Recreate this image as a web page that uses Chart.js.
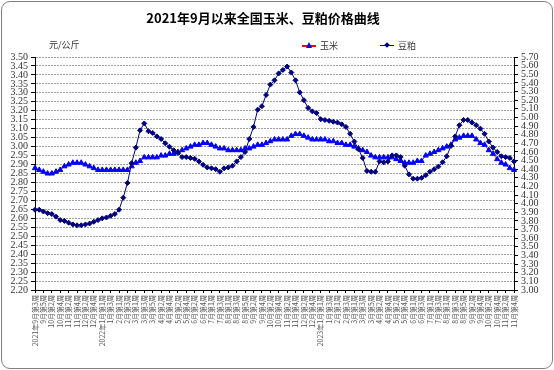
<!DOCTYPE html>
<html><head><meta charset="utf-8">
<script src="https://cdn.jsdelivr.net/npm/chart.js@4.4.0/dist/chart.umd.min.js"></script>
<style>
html,body{margin:0;padding:0;background:#fff;}
#wrap{position:relative;width:554px;height:370px;overflow:hidden;background:#fff;}
#frame{position:absolute;left:1px;top:1px;width:550px;height:366px;border:1px solid #808080;border-radius:9px;pointer-events:none;}
canvas{position:absolute;left:0;top:0;}
.t{position:absolute;white-space:nowrap;font-family:"Noto Sans CJK SC",sans-serif;line-height:1;}
#title{left:0;width:526px;top:11px;text-align:center;font-size:13px;font-weight:bold;color:#000;}
#unit{left:49px;top:40px;font-size:9px;color:#333;}
.lgline{position:absolute;height:2px;}
.lgtext{font-size:9px;color:#333;top:41px;}
</style></head>
<body>
<div id="wrap">
<canvas id="c" width="554" height="370"></canvas>
<div class="t" id="title">2021年9月以来全国玉米、豆粕价格曲线</div>
<div class="t" id="unit">元/公斤</div>
<div class="lgline" style="left:302px;top:45px;width:14px;background:#ff0000;"></div>
<div style="position:absolute;left:306px;top:42px;width:0;height:0;border-left:3px solid transparent;border-right:3px solid transparent;border-bottom:6px solid #0000ff;"></div>
<div class="t lgtext" style="left:320px;">玉米</div>
<div class="lgline" style="left:380px;top:45px;width:14px;height:1px;background:#000080;"></div>
<div style="position:absolute;left:385px;top:43px;width:4px;height:4px;background:#000080;transform:rotate(45deg);"></div>
<div class="t lgtext" style="left:398px;">豆粕</div>
<div id="frame"></div>
</div>
<script>
const tickLabels = [
 "2021年9月第3周","9月第5周","10月第2周","10月第4周","11月第2周","11月第4周","12月第2周","12月第4周",
 "2022年1月第1周","1月第3周","2月第1周","2月第3周","3月第1周","3月第3周","3月第5周","4月第2周","4月第4周",
 "5月第2周","5月第4周","6月第2周","6月第4周","7月第1周","7月第3周","8月第1周","8月第3周","8月第5周",
 "9月第2周","9月第4周","10月第2周","10月第4周","11月第2周","11月第4周","12月第2周","12月第4周",
 "2023年1月第1周","1月第3周","2月第1周","2月第3周","3月第1周","3月第3周","3月第5周","4月第2周","4月第4周",
 "5月第2周","5月第4周","6月第1周","6月第3周","7月第1周","7月第3周","8月第1周","8月第3周","8月第5周",
 "9月第2周","9月第4周","10月第2周","10月第4周","11月第2周","11月第4周"
];
// 玉米 (元/公斤, left axis), weekly
const corn = [
 2.88,2.87,2.86,2.85,2.85,2.86,2.87,2.89,2.90,2.91,
 2.91,2.91,2.90,2.89,2.88,2.87,2.87,2.87,2.87,2.87,
 2.87,2.87,2.87,2.89,2.91,2.92,2.94,2.94,2.94,2.94,
 2.95,2.95,2.96,2.96,2.97,2.98,2.99,3.00,3.01,3.01,
 3.02,3.02,3.01,3.00,2.99,2.99,2.98,2.98,2.98,2.98,
 2.99,2.99,3.00,3.01,3.01,3.02,3.03,3.04,3.04,3.04,
 3.04,3.06,3.07,3.07,3.06,3.05,3.04,3.04,3.04,3.04,
 3.03,3.03,3.02,3.02,3.01,3.01,3.00,2.99,2.98,2.97,
 2.95,2.94,2.94,2.94,2.94,2.94,2.93,2.92,2.91,2.91,
 2.91,2.92,2.92,2.95,2.96,2.97,2.98,2.99,3.00,3.01,
 3.04,3.05,3.06,3.06,3.06,3.04,3.02,3.01,2.98,2.96,
 2.93,2.91,2.90,2.88,2.87
];
// 豆粕 (元/公斤, right axis), weekly
const soymeal = [
 3.93,3.93,3.91,3.89,3.88,3.85,3.81,3.80,3.78,3.76,
 3.75,3.75,3.76,3.77,3.79,3.81,3.83,3.84,3.86,3.88,
 3.93,4.07,4.24,4.47,4.65,4.85,4.93,4.84,4.82,4.78,
 4.75,4.70,4.66,4.62,4.59,4.54,4.54,4.53,4.52,4.49,
 4.45,4.42,4.41,4.40,4.37,4.41,4.42,4.44,4.49,4.54,
 4.60,4.75,4.89,5.09,5.13,5.26,5.38,5.43,5.51,5.55,
 5.59,5.52,5.43,5.29,5.20,5.11,5.07,5.05,4.98,4.97,
 4.96,4.95,4.94,4.92,4.89,4.81,4.72,4.63,4.53,4.38,
 4.37,4.37,4.49,4.48,4.49,4.56,4.56,4.54,4.44,4.34,
 4.29,4.29,4.30,4.33,4.37,4.40,4.43,4.48,4.55,4.67,
 4.78,4.91,4.97,4.97,4.94,4.91,4.87,4.81,4.72,4.65,
 4.60,4.55,4.54,4.53,4.49
];

const serif = "'Liberation Serif', 'DejaVu Serif', serif";
const cjk = "'Noto Sans CJK SC', sans-serif";

new Chart(document.getElementById('c'), {
  type: 'line',
  data: {
    datasets: [
      { label: '玉米', data: corn.map((v, i) => ({ x: i, y: v })), yAxisID: 'y',
        borderColor: '#ff0000', borderWidth: 1, pointStyle: 'triangle', pointRadius: 3,
        pointBackgroundColor: '#0000ff', pointBorderColor: '#0000ff', pointBorderWidth: 1,
        tension: 0, clip: false, order: 1 },
      { label: '豆粕', data: soymeal.map((v, i) => ({ x: i, y: v })), yAxisID: 'y1',
        borderColor: '#000080', borderWidth: 1, pointStyle: 'rectRot', pointRadius: 2.5,
        pointBackgroundColor: '#000080', pointBorderColor: '#000080', pointBorderWidth: 1,
        tension: 0, clip: false, order: 0 }
    ]
  },
  options: {
    responsive: false, animation: false,
    layout: { padding: { top: 57, left: 0, right: 0, bottom: 0 } },
    plugins: { legend: { display: false }, title: { display: false }, tooltip: { enabled: false } },
    scales: {
      x: {
        type: 'linear', position: 'bottom', min: 0, max: (tickLabels.length - 1) * 2,
        afterFit(s) { s.height = 80; },
        afterBuildTicks(s) { s.ticks = tickLabels.map((l, k) => ({ value: k * 2 })); },
        ticks: { autoSkip: false, maxRotation: 90, minRotation: 90, padding: 2,
          font: { family: cjk, size: 7 }, color: '#555',
          callback: (v) => tickLabels[Math.round(v / 2)] },
        grid: { drawOnChartArea: false, tickLength: 3, color: '#000' },
        border: { color: '#000' }
      },
      y: {
        position: 'left', min: 2.2, max: 3.5,
        afterFit(s) { s.width = 35; },
        ticks: { stepSize: 0.05, autoSkip: false, padding: 3,
          font: { family: serif, size: 10 }, color: '#333',
          callback: (v) => Number(v).toFixed(2) },
        grid: { color: '#a0a0a0', tickColor: '#000', tickLength: 4 },
        border: { color: '#000', dash: [2, 1] }
      },
      y1: {
        position: 'right', min: 3.0, max: 5.7,
        afterFit(s) { s.width = 40; },
        ticks: { stepSize: 0.1, autoSkip: false, padding: 3,
          font: { family: serif, size: 10 }, color: '#333',
          callback: (v) => Number(v).toFixed(2) },
        grid: { drawOnChartArea: false, tickColor: '#000', tickLength: 4 },
        border: { color: '#000' }
      }
    }
  }
});
</script>
</body></html>
